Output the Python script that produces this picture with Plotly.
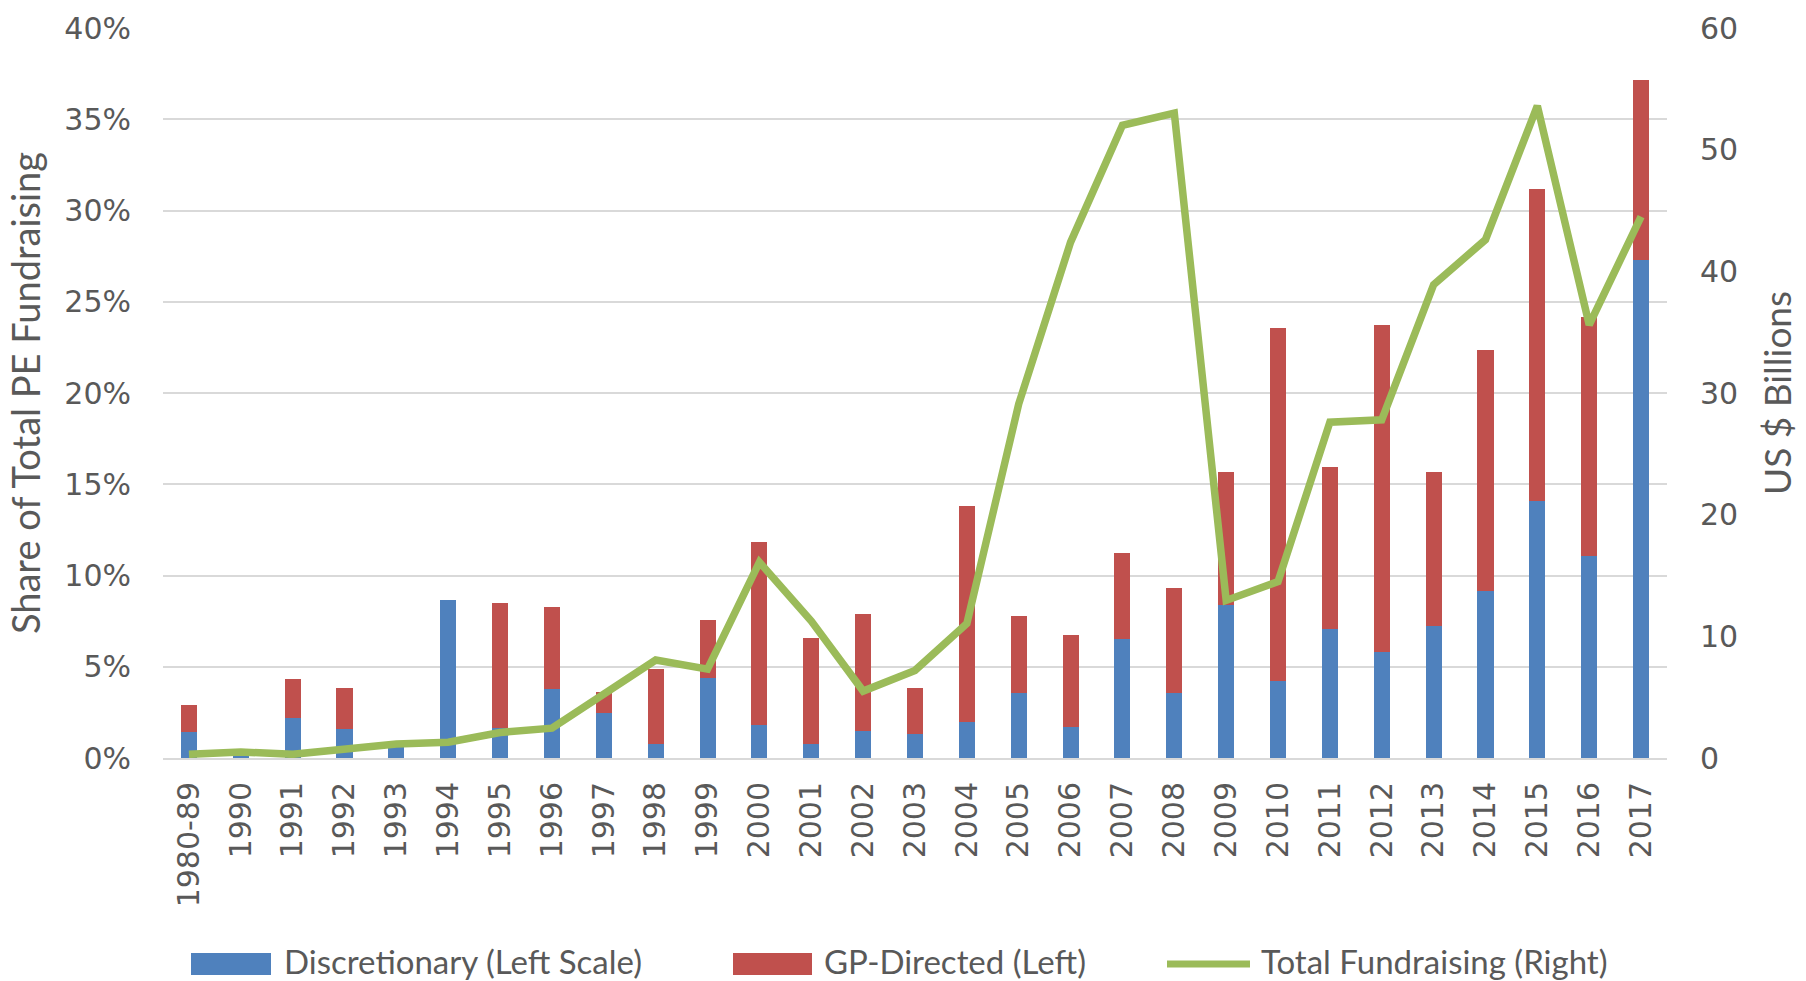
import plotly.graph_objects as go

categories = ["1980-89", "1990", "1991", "1992", "1993", "1994", "1995", "1996", "1997", "1998",
              "1999", "2000", "2001", "2002", "2003", "2004", "2005", "2006", "2007", "2008",
              "2009", "2010", "2011", "2012", "2013", "2014", "2015", "2016", "2017"]

discretionary = [1.45, 0.3, 2.2, 1.6, 0.75, 8.65, 1.65, 3.8, 2.45, 0.75,
                 4.4, 1.8, 0.75, 1.5, 1.3, 2.0, 3.55, 1.7, 6.5, 3.55,
                 8.4, 4.2, 7.05, 5.8, 7.25, 9.15, 14.1, 11.05, 27.3]

gp_directed = [1.45, 0.0, 2.15, 2.25, 0.0, 0.0, 6.85, 4.5, 1.15, 4.1,
               3.15, 10.05, 5.85, 6.4, 2.55, 11.8, 4.25, 5.05, 4.75, 5.75,
               7.25, 19.35, 8.9, 17.9, 8.4, 13.2, 17.1, 13.1, 9.85]

total_fundraising = [0.3, 0.5, 0.3, 0.65, 1.15, 1.3, 2.1, 2.45, 5.2, 8.05,
                     7.3, 16.1, 11.25, 5.5, 7.2, 11.05, 29.1, 42.4, 52.0, 53.0,
                     12.95, 14.5, 27.6, 27.8, 38.9, 42.6, 53.6, 35.6, 44.5]

left_ticks = [0, 5, 10, 15, 20, 25, 30, 35, 40]
left_tick_labels = ["0%", "5%", "10%", "15%", "20%", "25%", "30%", "35%", "40%"]
right_ticks = [0, 10, 20, 30, 40, 50, 60]

legend_labels = ["Discretionary (Left Scale)", "GP-Directed (Left)", "Total Fundraising (Right)"]

BLUE = "#4F81BD"
RED = "#C0504D"
GREEN = "#9BBB59"
TEXT = "#595959"
GRID = "#D9D9D9"
TICK_FONT = "DejaVu Sans"
LABEL_FONT = "Lato, Noto Sans, sans-serif"

W, H = 1806, 981
ML, MR, MT, MB = 163, 139, 28, 223
PW, PH = W - ML - MR, H - MT - MB


def px_x(px):
    return (px - ML) / PW


def px_y(py):
    return (H - MB - py) / PH


fig = go.Figure()
fig.add_trace(go.Bar(x=categories, y=discretionary, name=legend_labels[0],
                     marker=dict(color=BLUE, line=dict(width=0)), showlegend=False))
fig.add_trace(go.Bar(x=categories, y=gp_directed, name=legend_labels[1],
                     marker=dict(color=RED, line=dict(width=0)), showlegend=False))
fig.add_trace(go.Scatter(x=categories, y=total_fundraising, name=legend_labels[2], yaxis="y2",
                         mode="lines", line=dict(color=GREEN, width=7.5), showlegend=False))

# custom legend (wide swatches as in the original)
shapes = []
annotations = []
leg_y0, leg_y1 = 953, 975
items = [
    (191, 271, 282, BLUE, "rect"),
    (733, 812, 822, RED, "rect"),
    (1167, 1250, 1259, GREEN, "line"),
]
for (x0, x1, tx, col, kind), lab in zip(items, legend_labels):
    if kind == "rect":
        shapes.append(dict(type="rect", xref="paper", yref="paper",
                           x0=px_x(x0), x1=px_x(x1), y0=px_y(leg_y1), y1=px_y(leg_y0),
                           fillcolor=col, line=dict(width=0)))
    else:
        ym = px_y((leg_y0 + leg_y1) / 2)
        shapes.append(dict(type="line", xref="paper", yref="paper",
                           x0=px_x(x0), x1=px_x(x1), y0=ym, y1=ym,
                           line=dict(color=col, width=7)))
    annotations.append(dict(text=lab, xref="paper", yref="paper",
                            x=px_x(tx), y=px_y((leg_y0 + leg_y1) / 2 - 3),
                            xanchor="left", yanchor="middle", showarrow=False,
                            font=dict(family=LABEL_FONT, size=33, color=TEXT)))

fig.update_layout(
    width=W, height=H,
    margin=dict(l=ML, r=MR, t=MT, b=MB, autoexpand=False),
    paper_bgcolor="white", plot_bgcolor="white",
    barmode="stack", bargap=0.69,
    shapes=shapes, annotations=annotations,
    xaxis=dict(type="category", showgrid=False, showline=True, linecolor=GRID, linewidth=2,
               tickangle=-90, ticks="", ticklabelstandoff=10,
               tickfont=dict(family=TICK_FONT, size=30, color=TEXT), automargin=False),
    yaxis=dict(range=[0, 40], tickmode="array", tickvals=left_ticks, ticktext=left_tick_labels,
               showgrid=True, gridcolor=GRID, gridwidth=1.5, zeroline=False,
               ticks="", ticklabelstandoff=31,
               tickfont=dict(family=TICK_FONT, size=30, color=TEXT),
               title=dict(text="Share of Total PE Fundraising", standoff=12,
                          font=dict(family=LABEL_FONT, size=38, color=TEXT)),
               automargin=False),
    yaxis2=dict(range=[0, 60], tickmode="array", tickvals=right_ticks, overlaying="y", side="right",
                showgrid=False, zeroline=False, ticks="", ticklabelstandoff=32,
                tickfont=dict(family=TICK_FONT, size=30, color=TEXT),
                title=dict(text="US $ Billions", standoff=27,
                           font=dict(family=LABEL_FONT, size=37, color=TEXT)),
                automargin=False),
)

fig.write_html("out.html", config={"displayModeBar": False},
               post_script="document.body.style.margin='0';")
